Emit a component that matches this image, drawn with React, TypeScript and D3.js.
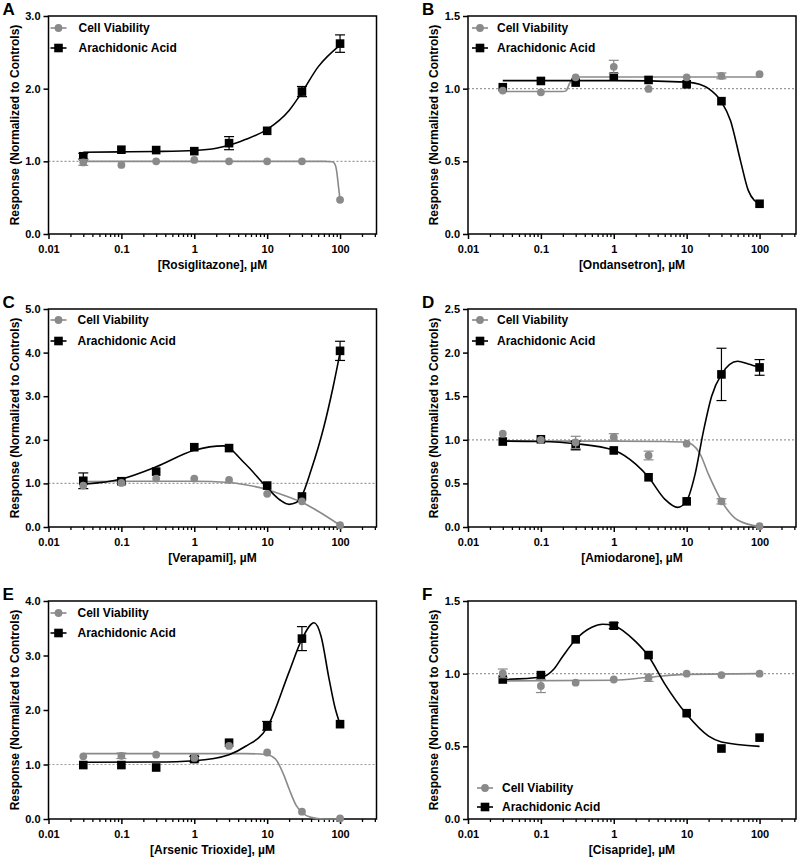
//this component renders six dose-response panels (cell viability vs arachidonic acid)
import * as d3 from 'd3';
import React, { useEffect, useRef } from 'react';

// concentrations tested (µM)
const doses = [0.03, 0.1, 0.3, 1, 3, 10, 30, 100];

const panelLetters = ['A', 'B', 'C', 'D', 'E', 'F'];
const drugNames = ['Rosiglitazone', 'Ondansetron', 'Verapamil', 'Amiodarone', 'Arsenic Trioxide', 'Cisapride'];
const seriesNames = ['Cell Viability', 'Arachidonic Acid'];
const xTickValues = [0.01, 0.1, 1, 10, 100];
const xTickLabels = ['0.01', '0.1', '1', '10', '100'];

// y tick values for each panel
const yTicksA = [0, 1, 2, 3];
const yTicksB = [0, 0.5, 1, 1.5];
const yTicksC = [0, 1, 2, 3, 4, 5];
const yTicksD = [0, 0.5, 1, 1.5, 2, 2.5];
const yTicksE = [0, 1, 2, 3, 4];
const yTicksF = [0, 0.5, 1, 1.5];

// A - rosiglitazone
const viabilityA = [0.985, 0.95, 1.0, 1.02, 1.0, 1.0, 1.0, 0.47];
const viabilityErrA = [0.04, 0.02, 0.01, 0.02, 0.01, 0.01, 0.01, 0.01];
const acidA = [1.07, 1.16, 1.155, 1.14, 1.25, 1.42, 1.96, 2.62];
const acidErrA = [0.04, 0.02, 0.02, 0.03, 0.09, 0.03, 0.07, 0.12];
const viabilityFitA = [[0.03, 1.0], [1, 1.0], [60, 1.0], [78, 0.995], [85, 0.96], [90, 0.86], [95, 0.66], [100, 0.47]];
const acidFitA = [[0.03, 1.125], [0.1, 1.13], [0.3, 1.135], [1, 1.15], [2, 1.18], [3, 1.22], [5, 1.3], [10, 1.44], [20, 1.7], [30, 1.95], [50, 2.3], [100, 2.6]];

// B - ondansetron
const viabilityB = [0.987, 0.975, 1.078, 1.15, 0.998, 1.078, 1.088, 1.1];
const viabilityErrB = [0.01, 0.01, 0.01, 0.045, 0.01, 0.01, 0.02, 0.01];
const acidB = [1.01, 1.053, 1.042, 1.083, 1.06, 1.03, 0.914, 0.208];
const acidErrB = [0.01, 0.01, 0.01, 0.01, 0.01, 0.01, 0.01, 0.01];
const viabilityFitB = [[0.03, 0.98], [0.2, 0.98], [0.22, 0.985], [0.25, 1.04], [0.28, 1.075], [0.3, 1.08], [100, 1.08]];
const acidFitB = [[0.03, 1.055], [1, 1.055], [10, 1.045], [15, 1.03], [20, 1.0], [30, 0.91], [40, 0.78], [55, 0.5], [70, 0.3], [85, 0.23], [100, 0.21]];

// C - verapamil
const viabilityC = [0.95, 1.01, 1.11, 1.11, 1.08, 0.76, 0.59, 0.04];
const viabilityErrC = [0.02, 0.02, 0.02, 0.02, 0.02, 0.02, 0.02, 0.02];
const acidC = [1.06, 1.05, 1.27, 1.83, 1.81, 0.95, 0.7, 4.04];
const acidErrC = [0.18, 0.03, 0.05, 0.03, 0.03, 0.04, 0.03, 0.22];
const viabilityFitC = [[0.03, 1.04], [0.3, 1.05], [1, 1.05], [3, 1.02], [5, 0.97], [10, 0.86], [20, 0.68], [30, 0.57], [50, 0.36], [100, 0.04]];
const acidFitC = [[0.03, 0.98], [0.1, 1.1], [0.3, 1.38], [1, 1.76], [2.5, 1.86], [5, 1.45], [10, 0.9], [15, 0.62], [20, 0.52], [25, 0.56], [30, 0.72], [40, 1.3], [60, 2.3], [80, 3.2], [100, 4.0]];

// D - amiodarone
const viabilityD = [1.07, 1.0, 0.97, 1.03, 0.82, 0.955, 0.294, 0.01];
const viabilityErrD = [0.02, 0.02, 0.07, 0.04, 0.05, 0.02, 0.03, 0.01];
const acidD = [0.98, 1.006, 0.935, 0.878, 0.57, 0.294, 1.75, 1.83];
const acidErrD = [0.02, 0.02, 0.05, 0.02, 0.02, 0.02, 0.3, 0.09];
const viabilityFitD = [[0.03, 0.985], [1, 0.985], [5, 0.98], [10, 0.97], [15, 0.85], [20, 0.6], [30, 0.3], [50, 0.08], [100, 0.005]];
const acidFitD = [[0.03, 0.985], [0.1, 0.98], [0.3, 0.955], [1, 0.88], [2, 0.72], [3, 0.57], [5, 0.32], [7.5, 0.225], [10, 0.3], [13, 0.6], [17, 1.1], [22, 1.5], [30, 1.75], [50, 1.9], [70, 1.87], [100, 1.83]];

// E - arsenic trioxide
const viabilityE = [1.15, 1.16, 1.18, 1.12, 1.34, 1.22, 0.134, 0.01];
const viabilityErrE = [0.02, 0.05, 0.02, 0.02, 0.03, 0.02, 0.02, 0.01];
const acidE = [0.99, 0.99, 0.945, 1.1, 1.4, 1.71, 3.31, 1.74];
const acidErrE = [0.03, 0.03, 0.02, 0.05, 0.04, 0.08, 0.22, 0.04];
const viabilityFitE = [[0.03, 1.2], [5, 1.2], [10, 1.18], [13, 1.1], [17, 0.8], [20, 0.55], [25, 0.25], [30, 0.12], [40, 0.03], [60, 0.0], [100, 0.0]];
const acidFitE = [[0.03, 1.04], [0.3, 1.045], [1, 1.07], [3, 1.18], [5, 1.33], [10, 1.68], [20, 2.7], [30, 3.3], [44, 3.6], [55, 3.35], [70, 2.6], [85, 2.05], [100, 1.74]];

// F - cisapride
const viabilityF = [1.002, 0.915, 0.938, 0.96, 0.972, 1.0, 0.99, 1.0];
const viabilityErrF = [0.03, 0.045, 0.01, 0.01, 0.025, 0.01, 0.01, 0.01];
const acidF = [0.96, 0.99, 1.236, 1.33, 1.128, 0.728, 0.485, 0.56];
const acidErrF = [0.01, 0.01, 0.01, 0.02, 0.01, 0.01, 0.01, 0.01];
const viabilityFitF = [[0.03, 0.95], [1, 0.955], [3, 0.975], [10, 0.995], [100, 1.0]];
const acidFitF = [[0.03, 0.96], [0.1, 0.975], [0.15, 1.03], [0.2, 1.12], [0.3, 1.235], [0.5, 1.32], [0.7, 1.34], [1, 1.33], [2, 1.22], [3, 1.12], [5, 0.93], [10, 0.72], [20, 0.57], [30, 0.53], [100, 0.5]];

const panels = [
  { yTicks: yTicksA, viability: viabilityA, viabilityErr: viabilityErrA, acid: acidA, acidErr: acidErrA, viabilityFit: viabilityFitA, acidFit: acidFitA },
  { yTicks: yTicksB, viability: viabilityB, viabilityErr: viabilityErrB, acid: acidB, acidErr: acidErrB, viabilityFit: viabilityFitB, acidFit: acidFitB },
  { yTicks: yTicksC, viability: viabilityC, viabilityErr: viabilityErrC, acid: acidC, acidErr: acidErrC, viabilityFit: viabilityFitC, acidFit: acidFitC },
  { yTicks: yTicksD, viability: viabilityD, viabilityErr: viabilityErrD, acid: acidD, acidErr: acidErrD, viabilityFit: viabilityFitD, acidFit: acidFitD },
  { yTicks: yTicksE, viability: viabilityE, viabilityErr: viabilityErrE, acid: acidE, acidErr: acidErrE, viabilityFit: viabilityFitE, acidFit: acidFitE },
  { yTicks: yTicksF, viability: viabilityF, viabilityErr: viabilityErrF, acid: acidF, acidErr: acidErrF, viabilityFit: viabilityFitF, acidFit: acidFitF }
];

// layout
const colLefts = [48.5, 468];
const rowTops = [16, 309, 601];
const plotW = 328;
const plotH = 218;
const legendDx = [10, 12, 10, 12, 10, 17];
const legendTextDx = [30, 29, 29, 29, 29, 34];
const legendDy = [[12, 32], [12, 32], [11, 32], [11, 32], [12, 32], [187, 206]];
const GRAY = '#8a8a8a';
const FONT = 'Arial, "Liberation Sans", Helvetica, sans-serif';

const App = () => {
  const svgRef = useRef(null);

  useEffect(() => {
    const svg = d3.select(svgRef.current);
    svg.selectAll('*').remove();

    panels.forEach((p, i) => {
      const left = colLefts[i % 2];
      const top = rowTops[Math.floor(i / 2)];
      const yMax = p.yTicks[p.yTicks.length - 1];

      const x = d3.scaleLog().domain([0.01, Math.pow(10, 2.5)]).range([0, plotW]);
      const y = d3.scaleLinear().domain([0, yMax]).range([plotH, 0]);

      const g = svg.append('g').attr('transform', `translate(${left}, ${top})`);

      //panel letter
      svg
        .append('text')
        .attr('x', left - 46)
        .attr('y', top - 1.5)
        .attr('font-family', FONT)
        .attr('font-weight', 'bold')
        .attr('font-size', 17)
        .text(panelLetters[i]);

      //dotted line at 1.0
      g.append('line')
        .attr('x1', 0)
        .attr('x2', plotW)
        .attr('y1', y(1))
        .attr('y2', y(1))
        .attr('stroke', '#9a9a9a')
        .attr('stroke-width', 1.2)
        .attr('stroke-dasharray', '2,2');

      //minor ticks on the log axis
      const minor = [];
      for (let e = -2; e <= 2; e++) {
        for (let k = 2; k <= 9; k++) {
          const v = k * Math.pow(10, e);
          if (v <= Math.pow(10, 2.5) + 1e-6) minor.push(v);
        }
      }
      g.append('g')
        .attr('transform', `translate(0, ${plotH})`)
        .call(d3.axisBottom(x).tickValues(minor).tickSize(3).tickSizeOuter(0).tickFormat(() => ''))
        .call((a) => a.select('.domain').remove())
        .call((a) => a.selectAll('line').attr('stroke-width', 1.3));

      //major x ticks
      g.append('g')
        .attr('transform', `translate(0, ${plotH})`)
        .call(
          d3
            .axisBottom(x)
            .tickValues(xTickValues)
            .tickSize(5)
            .tickSizeOuter(0)
            .tickFormat((d, j) => xTickLabels[j])
        )
        .call((a) => a.select('.domain').remove())
        .call((a) => a.selectAll('line').attr('stroke-width', 1.5))
        .call((a) =>
          a
            .selectAll('text')
            .attr('y', 19)
            .attr('dy', null)
            .attr('fill', '#000')
            .attr('font-family', FONT)
            .attr('font-weight', 'bold')
            .attr('font-size', 11)
        );

      //y axis
      g.append('g')
        .call(
          d3
            .axisLeft(y)
            .tickValues(p.yTicks)
            .tickSize(5)
            .tickPadding(3)
            .tickSizeOuter(0)
            .tickFormat(d3.format('.1f'))
        )
        .call((a) => a.select('.domain').remove())
        .call((a) => a.selectAll('line').attr('stroke-width', 1.5))
        .call((a) =>
          a
            .selectAll('text')
            .attr('fill', '#000')
            .attr('font-family', FONT)
            .attr('font-weight', 'bold')
            .attr('font-size', 11)
        );

      //frame
      g.append('rect')
        .attr('x', 0)
        .attr('y', 0)
        .attr('width', plotW)
        .attr('height', plotH)
        .attr('fill', 'none')
        .attr('stroke', '#000')
        .attr('stroke-width', 1.5);

      //fitted curves
      const line = d3
        .line()
        .x((d) => x(d[0]))
        .y((d) => y(d[1]))
        .curve(d3.curveMonotoneX);

      g.append('path')
        .attr('d', line(p.viabilityFit))
        .attr('fill', 'none')
        .attr('stroke', GRAY)
        .attr('stroke-width', 1.6);

      g.append('path')
        .attr('d', line(p.acidFit))
        .attr('fill', 'none')
        .attr('stroke', '#000')
        .attr('stroke-width', 1.6);

      //error bars + markers for both series
      const series = [
        { vals: p.acid, errs: p.acidErr, color: '#000', square: true },
        { vals: p.viability, errs: p.viabilityErr, color: GRAY, square: false }
      ];

      series.forEach((s) => {
        const eb = g.append('g').attr('stroke', s.color).attr('stroke-width', 1.2);
        doses.forEach((dose, j) => {
          const cx = x(dose);
          const y1 = y(s.vals[j] + s.errs[j]);
          const y2 = y(s.vals[j] - s.errs[j]);
          //tiny bars that sit inside the marker are not drawn
          if (Math.abs(y2 - y1) / 2 < 2.5) return;
          eb.append('line').attr('x1', cx).attr('x2', cx).attr('y1', y1).attr('y2', y2);
          eb.append('line').attr('x1', cx - 5).attr('x2', cx + 5).attr('y1', y1).attr('y2', y1);
          eb.append('line').attr('x1', cx - 5).attr('x2', cx + 5).attr('y1', y2).attr('y2', y2);
        });

        if (s.square) {
          g.selectAll(null)
            .data(s.vals)
            .enter()
            .append('rect')
            .attr('x', (d, j) => x(doses[j]) - 4.3)
            .attr('y', (d) => y(d) - 4.3)
            .attr('width', 8.6)
            .attr('height', 8.6)
            .attr('fill', s.color);
        } else {
          g.selectAll(null)
            .data(s.vals)
            .enter()
            .append('circle')
            .attr('cx', (d, j) => x(doses[j]))
            .attr('cy', (d) => y(d))
            .attr('r', 3.9)
            .attr('fill', s.color);
        }
      });

      //legend
      seriesNames.forEach((name, k) => {
        const ly = legendDy[i][k];
        const lx = legendDx[i];
        const color = k === 0 ? GRAY : '#000';
        g.append('line')
          .attr('x1', lx - 8)
          .attr('x2', lx + 8)
          .attr('y1', ly)
          .attr('y2', ly)
          .attr('stroke', color)
          .attr('stroke-width', 1.6);
        if (k === 0) {
          g.append('circle').attr('cx', lx).attr('cy', ly).attr('r', 3.9).attr('fill', color);
        } else {
          g.append('rect')
            .attr('x', lx - 4.3)
            .attr('y', ly - 4.3)
            .attr('width', 8.6)
            .attr('height', 8.6)
            .attr('fill', color);
        }
        g.append('text')
          .attr('x', legendTextDx[i])
          .attr('y', ly)
          .attr('dy', '0.36em')
          .attr('font-family', FONT)
          .attr('font-weight', 'bold')
          .attr('font-size', 12)
          .text(name);
      });

      //x-axis title
      g.append('text')
        .attr('x', plotW / 2)
        .attr('y', plotH + 35)
        .attr('text-anchor', 'middle')
        .attr('font-family', FONT)
        .attr('font-weight', 'bold')
        .attr('font-size', 12)
        .text(`[${drugNames[i]}], µM`);

      //y-axis title
      g.append('text')
        .attr('transform', `translate(${-34}, ${plotH / 2}) rotate(-90)`)
        .attr('text-anchor', 'middle')
        .attr('dy', '0.35em')
        .attr('font-family', FONT)
        .attr('font-weight', 'bold')
        .attr('font-size', 12)
        .text('Response (Normalized to Controls)');
    });
  }, []);

  return (
    <svg
      ref={svgRef}
      width={800}
      height={861}
      style={{ position: 'absolute', left: 0, top: 0, background: '#fff' }}
    ></svg>
  );
};

export default App;
